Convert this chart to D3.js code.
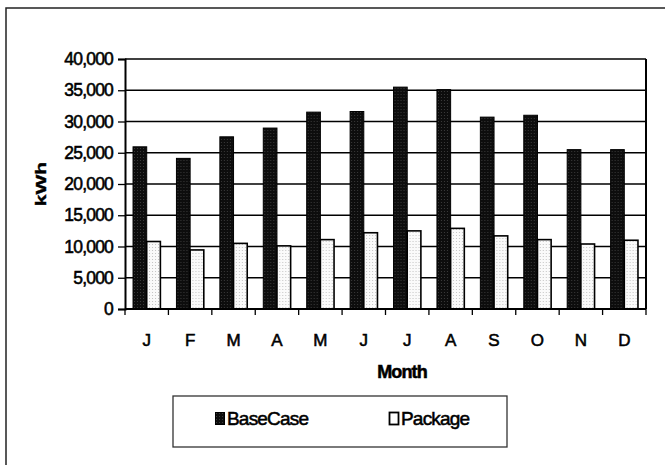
<!DOCTYPE html>
<html>
<head>
<meta charset="utf-8">
<script src="https://cdn.jsdelivr.net/npm/d3@7"></script>
<style>
  body { margin: 0; background: #fff; }
  svg { display: block; }
  text { font-family: Arial, "Liberation Sans", sans-serif; fill: #000; stroke: #000; stroke-width: 0.55; }
</style>
</head>
<body>
<svg id="chart" width="665" height="465"></svg>
<script>
// --- Data ---
const months = ["J", "F", "M", "A", "M2", "J2", "J3", "A2", "S", "O", "N", "D"];
const monthLabels = ["J", "F", "M", "A", "M", "J", "J", "A", "S", "O", "N", "D"];
const baseCase = [25950, 24100, 27550, 28950, 31500, 31600, 35500, 35100, 30700, 31000, 25500, 25500];
const packageVals = [10800, 9450, 10500, 10100, 11100, 12200, 12500, 12900, 11700, 11100, 10400, 11000];
const yTicks = [0, 5000, 10000, 15000, 20000, 25000, 30000, 35000, 40000];
const seriesNames = ["BaseCase", "Package"];

// --- Layout ---
const plot = { left: 125, right: 646, top: 59, bottom: 309 };

const svg = d3.select("#chart");

// stipple patterns, like the scanned halftone
const defs = svg.append("defs");
const dark = defs.append("pattern").attr("id", "darkFill")
    .attr("width", 3).attr("height", 3).attr("patternUnits", "userSpaceOnUse");
dark.append("rect").attr("width", 3).attr("height", 3).attr("fill", "#0d0d0d");
dark.append("rect").attr("x", 1).attr("y", 1).attr("width", 1).attr("height", 1).attr("fill", "#3a3a3a");
const light = defs.append("pattern").attr("id", "lightFill")
    .attr("width", 3).attr("height", 3).attr("patternUnits", "userSpaceOnUse");
light.append("rect").attr("width", 3).attr("height", 3).attr("fill", "#fafafa");
light.append("rect").attr("x", 1).attr("y", 1).attr("width", 1).attr("height", 1).attr("fill", "#c4c4c4");

// outer frame (runs off the right/bottom edge)
svg.append("rect")
    .attr("x", 6).attr("y", 8).attr("width", 700).attr("height", 500)
    .attr("fill", "none").attr("stroke", "#222").attr("stroke-width", 1.5);

// --- Scales ---
const x = d3.scaleBand().domain(months)
    .range([plot.left, plot.right]).paddingInner(0.37).paddingOuter(0.185);
const xSub = d3.scaleBand().domain(seriesNames).range([0, x.bandwidth()]);
const y = d3.scaleLinear().domain([0, 40000]).range([plot.bottom, plot.top]);

// gridlines
svg.append("g").selectAll("line").data(yTicks.slice(1)).join("line")
    .attr("x1", plot.left).attr("x2", plot.right)
    .attr("y1", d => y(d)).attr("y2", d => y(d))
    .attr("stroke", "#000").attr("stroke-width", 1.3);

// plot border (right side)
svg.append("line")
    .attr("x1", plot.right).attr("x2", plot.right)
    .attr("y1", plot.top).attr("y2", plot.bottom)
    .attr("stroke", "#000").attr("stroke-width", 2);

// --- Bars ---
const groups = svg.append("g").selectAll("g").data(months).join("g")
    .attr("transform", d => `translate(${x(d)},0)`);

groups.append("rect")
    .attr("x", xSub("BaseCase"))
    .attr("width", xSub.bandwidth())
    .attr("y", (d, i) => y(baseCase[i]))
    .attr("height", (d, i) => y(0) - y(baseCase[i]))
    .attr("fill", "url(#darkFill)").attr("stroke", "#000").attr("stroke-width", 1);

groups.append("rect")
    .attr("x", xSub("Package"))
    .attr("width", xSub.bandwidth())
    .attr("y", (d, i) => y(packageVals[i]))
    .attr("height", (d, i) => y(0) - y(packageVals[i]))
    .attr("fill", "url(#lightFill)").attr("stroke", "#000").attr("stroke-width", 1.6);

// --- Axes ---
const yAxis = svg.append("g")
    .attr("transform", `translate(${plot.left},0)`)
    .call(d3.axisLeft(y).tickValues(yTicks).tickSize(7).tickPadding(5)
        .tickFormat(d3.format(",")));
yAxis.select(".domain").attr("stroke-width", 2);
yAxis.selectAll(".tick line").attr("stroke-width", 1.3);
yAxis.selectAll("text").attr("font-size", 17.5).attr("letter-spacing", -0.8)
    .style("font-family", "Arial, 'Liberation Sans', sans-serif");

// x axis with ticks at category boundaries
const boundaries = d3.range(months.length + 1).map(i => plot.left + i * (plot.right - plot.left) / months.length);
svg.append("line")
    .attr("x1", plot.left).attr("x2", plot.right)
    .attr("y1", plot.bottom).attr("y2", plot.bottom)
    .attr("stroke", "#000").attr("stroke-width", 2);
svg.append("g").selectAll("line").data(boundaries).join("line")
    .attr("x1", d => d).attr("x2", d => d)
    .attr("y1", plot.bottom).attr("y2", plot.bottom + 6)
    .attr("stroke", "#000").attr("stroke-width", 1.3);

svg.append("g").selectAll("text").data(months).join("text")
    .attr("x", d => x(d) + x.bandwidth() / 2)
    .attr("y", 346)
    .attr("text-anchor", "middle")
    .attr("font-size", 17)
    .text((d, i) => monthLabels[i]);

// axis titles
svg.append("text")
    .attr("x", 402).attr("y", 378)
    .attr("text-anchor", "middle")
    .attr("font-size", 18).attr("font-weight", "bold").attr("letter-spacing", -0.9)
    .text("Month");

svg.append("text")
    .attr("transform", `translate(46,${(plot.top + plot.bottom) / 2}) rotate(-90) scale(1,0.72)`)
    .attr("text-anchor", "middle")
    .attr("font-size", 21).attr("font-weight", "bold")
    .text("kWh");

// --- Legend ---
const legend = svg.append("g");
legend.append("rect")
    .attr("x", 173).attr("y", 396).attr("width", 334).attr("height", 51)
    .attr("fill", "none").attr("stroke", "#333").attr("stroke-width", 1.3);

const legendItems = [
    { name: seriesNames[0], x: 215, fill: "url(#darkFill)", sw: 1 },
    { name: seriesNames[1], x: 389, fill: "#fff", sw: 1.8 }
];
const li = legend.selectAll("g").data(legendItems).join("g")
    .attr("transform", d => `translate(${d.x},412)`);
li.append("rect")
    .attr("x", 0.5).attr("y", 0.5).attr("width", 9).attr("height", 12)
    .attr("fill", d => d.fill).attr("stroke", "#000").attr("stroke-width", d => d.sw);
li.append("text")
    .attr("x", 12).attr("y", 13)
    .attr("font-size", 19).attr("letter-spacing", -0.8)
    .text(d => d.name);
</script>
</body>
</html>
